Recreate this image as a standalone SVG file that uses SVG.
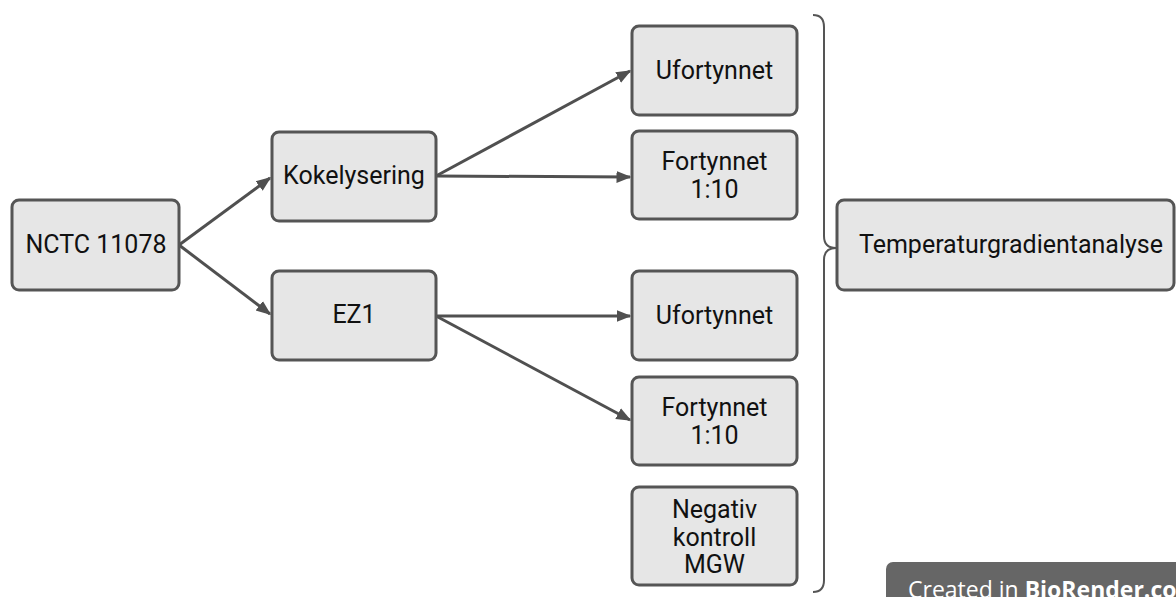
<svg xmlns="http://www.w3.org/2000/svg" width="1176" height="597" viewBox="0 0 1176 597">
  <style>
    .box { fill: #e6e6e6; stroke: #555555; stroke-width: 3; }
    .lbl { font-family: Roboto, "Liberation Sans", sans-serif; font-size: 25px; fill: #111111; text-anchor: middle; }
    .edge { stroke: #505050; stroke-width: 3; fill: none; }
    .brace { stroke: #555555; stroke-width: 2; fill: none; }
  </style>
  <defs>
    <marker id="arrow" viewBox="0 0 10 10" refX="9" refY="5" markerWidth="5" markerHeight="5" orient="auto" markerUnits="strokeWidth">
      <path d="M0,1 L10,5 L0,9 Z" fill="#505050"/>
    </marker>
  </defs>
  <rect width="1176" height="597" fill="#ffffff"/>

  <g id="connectors">
    <line class="edge" x1="179" y1="245" x2="270" y2="178" marker-end="url(#arrow)"/>
    <line class="edge" x1="179" y1="245" x2="270" y2="314" marker-end="url(#arrow)"/>
    <line class="edge" x1="436" y1="176" x2="630" y2="71" marker-end="url(#arrow)"/>
    <line class="edge" x1="436" y1="176" x2="630" y2="177" marker-end="url(#arrow)"/>
    <line class="edge" x1="436" y1="316" x2="630" y2="316" marker-end="url(#arrow)"/>
    <line class="edge" x1="436" y1="316" x2="630" y2="420" marker-end="url(#arrow)"/>
    <path class="brace" d="M813,15 Q824,15 824,27 L824,236 Q824,248 836,248 Q824,248 824,260 L824,580 Q824,592 813,592"/>
  </g>

  <g id="nctc">
    <rect class="box" x="12" y="200" width="167" height="90" rx="7"/>
    <text class="lbl" x="96" y="253">NCTC 11078</text>
  </g>
  <g id="kokelysering">
    <rect class="box" x="272" y="132" width="164" height="89" rx="7"/>
    <text class="lbl" x="354" y="184">Kokelysering</text>
  </g>
  <g id="ez1">
    <rect class="box" x="272" y="271" width="164" height="89" rx="7"/>
    <text class="lbl" x="354" y="323">EZ1</text>
  </g>
  <g id="ufortynnet-1">
    <rect class="box" x="632" y="26" width="165" height="89" rx="7"/>
    <text class="lbl" x="714.5" y="79">Ufortynnet</text>
  </g>
  <g id="fortynnet-1">
    <rect class="box" x="632" y="131" width="165" height="88" rx="7"/>
    <text class="lbl" x="714.5" y="170">Fortynnet</text>
    <text class="lbl" x="714.5" y="198">1:10</text>
  </g>
  <g id="ufortynnet-2">
    <rect class="box" x="632" y="271" width="165" height="89" rx="7"/>
    <text class="lbl" x="714.5" y="324">Ufortynnet</text>
  </g>
  <g id="fortynnet-2">
    <rect class="box" x="632" y="377" width="165" height="88" rx="7"/>
    <text class="lbl" x="714.5" y="416">Fortynnet</text>
    <text class="lbl" x="714.5" y="444">1:10</text>
  </g>
  <g id="negativ-kontroll">
    <rect class="box" x="632" y="487" width="165" height="98" rx="7"/>
    <text class="lbl" x="714.5" y="518">Negativ</text>
    <text class="lbl" x="714.5" y="545.5">kontroll</text>
    <text class="lbl" x="714.5" y="573">MGW</text>
  </g>
  <g id="temperaturgradientanalyse">
    <rect class="box" x="837" y="200" width="337" height="90" rx="7"/>
    <text class="lbl" x="1011" y="253">Temperaturgradientanalyse</text>
  </g>

  <g id="watermark">
    <rect x="886" y="562" width="310" height="50" rx="7" fill="#666666"/>
    <text x="908" y="598" font-family="'Open Sans', 'Noto Sans', sans-serif" font-size="23" fill="#ffffff">Created in <tspan font-weight="bold">BioRender.com</tspan></text>
  </g>
</svg>
